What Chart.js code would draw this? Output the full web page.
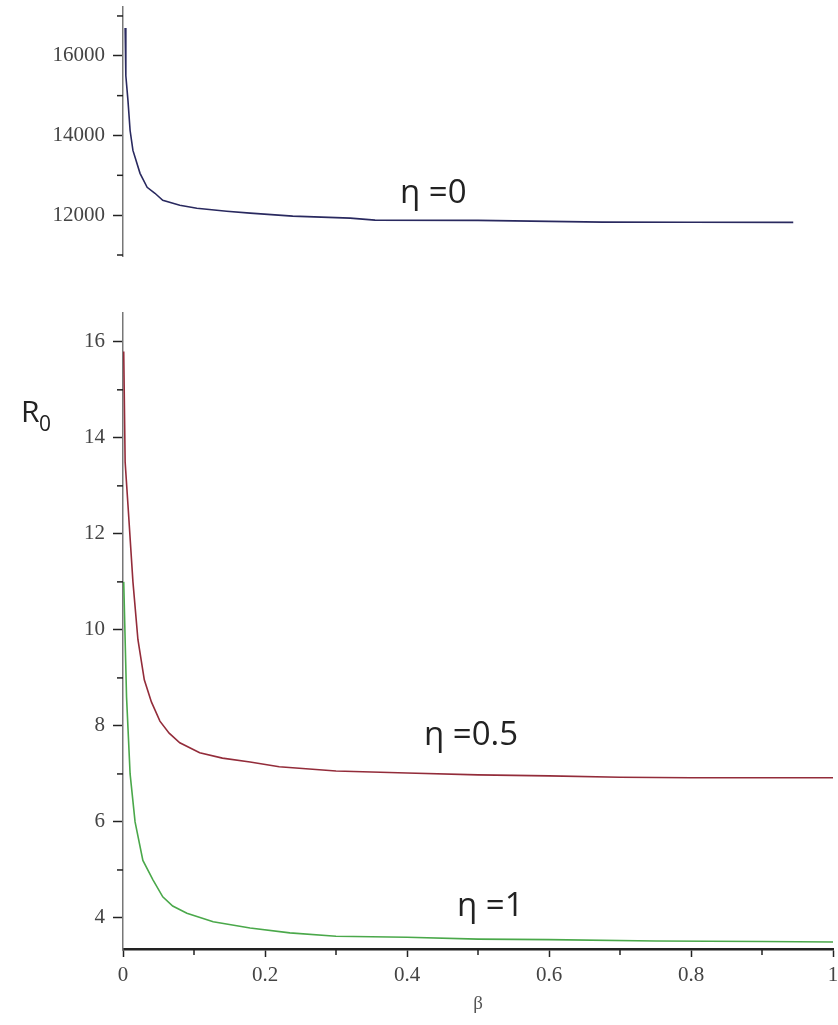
<!DOCTYPE html>
<html>
<head>
<meta charset="utf-8">
<script src="https://cdn.jsdelivr.net/npm/chart.js@4.4.0/dist/chart.umd.min.js"></script>
<style>
  body { margin: 0; background: #fff; }
  #wrap { position: relative; width: 838px; height: 1025px; background: #fff; }
  canvas { position: absolute; left: 0; }
  #topChart { top: 0; }
  #bottomChart { top: 290px; }
</style>
</head>
<body>
<div id="wrap">
  <canvas id="topChart" width="838" height="270"></canvas>
  <canvas id="bottomChart" width="838" height="735"></canvas>
</div>
<script>
// η = 0 (top panel)
const betaEta0 = [0.003, 0.004, 0.007, 0.010, 0.014, 0.024, 0.034, 0.045, 0.056, 0.080, 0.104, 0.146, 0.179, 0.239, 0.320, 0.355, 0.500, 0.675, 0.800, 0.944];
const r0Eta0 = [16700, 15500, 14875, 14125, 13625, 13050, 12700, 12550, 12375, 12250, 12175, 12100, 12050, 11975, 11925, 11875, 11870, 11825, 11823, 11820];

// η = 0.5
const betaEta05 = [0.001, 0.003, 0.007, 0.014, 0.021, 0.030, 0.040, 0.052, 0.065, 0.080, 0.108, 0.140, 0.179, 0.220, 0.300, 0.400, 0.500, 0.600, 0.700, 0.800, 0.900, 1.000];
const r0Eta05 = [15.8, 13.5, 12.6, 11.0, 9.8, 8.96, 8.5, 8.1, 7.85, 7.65, 7.44, 7.33, 7.25, 7.15, 7.06, 7.02, 6.98, 6.96, 6.93, 6.92, 6.92, 6.92];

// η = 1
const betaEta1 = [0.001, 0.005, 0.010, 0.017, 0.028, 0.042, 0.056, 0.070, 0.090, 0.127, 0.179, 0.235, 0.300, 0.400, 0.500, 0.600, 0.750, 0.900, 1.000];
const r0Eta1 = [11.0, 8.6, 7.0, 6.0, 5.2, 4.8, 4.44, 4.25, 4.1, 3.92, 3.79, 3.69, 3.62, 3.6, 3.56, 3.55, 3.52, 3.51, 3.5];

// tick values
const topMajorTicks = [12000, 14000, 16000];
const topMinorTicks = [11000, 13000, 15000, 17000];
const yMajorTicks = [4, 6, 8, 10, 12, 14, 16];
const yMinorTicks = [5, 7, 9, 11, 13, 15];
const xMajorTicks = [0, 0.2, 0.4, 0.6, 0.8, 1];
const xMinorTicks = [0.1, 0.3, 0.5, 0.7, 0.9];

const tickFont = { family: 'Liberation Serif', size: 21 };

function toPoints(xs, ys) {
    return xs.map((x, i) => ({ x: x, y: ys[i] }));
}

// short minor tick marks, placed through the chart's own scales
const minorTicksPlugin = {
    id: 'minorTicks',
    afterDraw(chart, args, opts) {
        const ctx = chart.ctx;
        const area = chart.chartArea;
        ctx.save();
        ctx.strokeStyle = '#222';
        ctx.lineWidth = 1.5;
        (opts.y || []).forEach(v => {
            const py = chart.scales.y.getPixelForValue(v);
            ctx.beginPath();
            ctx.moveTo(area.left - 6, py);
            ctx.lineTo(area.left, py);
            ctx.stroke();
        });
        (opts.x || []).forEach(v => {
            const px = chart.scales.x.getPixelForValue(v);
            ctx.beginPath();
            ctx.moveTo(px, area.bottom);
            ctx.lineTo(px, area.bottom + 6);
            ctx.stroke();
        });
        ctx.restore();
    }
};

// free text: curve labels and axis titles
const textPlugin = {
    id: 'textLabels',
    afterDraw(chart, args, opts) {
        const ctx = chart.ctx;
        ctx.save();
        (opts.items || []).forEach(item => {
            ctx.font = item.font;
            ctx.fillStyle = item.color || '#222';
            ctx.textAlign = item.align || 'left';
            ctx.textBaseline = item.baseline || 'alphabetic';
            ctx.fillText(item.text, item.x, item.y);
        });
        ctx.restore();
    }
};

function yAxis(min, max, ticks, width) {
    return {
        type: 'linear',
        min: min,
        max: max,
        afterBuildTicks: s => { s.ticks = ticks.map(v => ({ value: v })); },
        afterFit: s => { s.width = width; s.paddingTop = 0; s.paddingBottom = 0; },
        grid: { drawOnChartArea: false, drawTicks: true, tickLength: 10, tickColor: '#222', tickWidth: 1.5 },
        border: { display: true, color: '#777', width: 1.5 },
        ticks: { font: tickFont, color: '#444', padding: 8, callback: v => String(v) }
    };
}

// top panel, η = 0
new Chart(document.getElementById('topChart'), {
    type: 'line',
    data: {
        datasets: [{
            data: toPoints(betaEta0, r0Eta0),
            borderColor: '#29295f',
            borderWidth: 1.6,
            pointRadius: 0,
            tension: 0
        }]
    },
    options: {
        responsive: false,
        animation: false,
        layout: { padding: { top: 7, right: 5, left: 0, bottom: 14 } },
        plugins: {
            legend: { display: false },
            tooltip: { enabled: false },
            minorTicks: { y: topMinorTicks },
            textLabels: {
                items: [
                    { text: 'η =0', x: 400, y: 203, font: '33px "Open Sans"' }
                ]
            }
        },
        scales: {
            x: { type: 'linear', min: 0, max: 1, display: false },
            y: yAxis(10975, 17225, topMajorTicks, 123)
        }
    },
    plugins: [minorTicksPlugin, textPlugin]
});

// bottom panel, η = 0.5 and η = 1
new Chart(document.getElementById('bottomChart'), {
    type: 'line',
    data: {
        datasets: [{
            data: toPoints(betaEta05, r0Eta05),
            borderColor: '#932c3a',
            borderWidth: 1.6,
            pointRadius: 0,
            tension: 0
        }, {
            data: toPoints(betaEta1, r0Eta1),
            borderColor: '#4aa84a',
            borderWidth: 1.6,
            pointRadius: 0,
            tension: 0
        }]
    },
    options: {
        responsive: false,
        animation: false,
        layout: { padding: { top: 23, right: 5, left: 0, bottom: 0 } },
        plugins: {
            legend: { display: false },
            tooltip: { enabled: false },
            minorTicks: { y: yMinorTicks, x: xMinorTicks },
            textLabels: {
                items: [
                    { text: 'η =0.5', x: 424, y: 455, font: '33px "Open Sans"' },
                    { text: 'η =1', x: 457, y: 626, font: '33px "Open Sans"' },
                    { text: 'R', x: 21, y: 132, font: '30px "Open Sans"' },
                    { text: '0', x: 39, y: 141, font: '21px "Open Sans"' },
                    { text: 'β', x: 478, y: 714, font: '19px "Liberation Serif"', align: 'center', baseline: 'middle', color: '#555' }
                ]
            }
        },
        scales: {
            x: {
                type: 'linear',
                min: 0,
                max: 1,
                afterBuildTicks: s => { s.ticks = xMajorTicks.map(v => ({ value: v })); },
                afterFit: s => { s.height = 76; s.paddingLeft = 0; s.paddingRight = 0; },
                grid: { drawOnChartArea: false, drawTicks: true, tickLength: 8, tickColor: '#222', tickWidth: 1.5 },
                border: { display: true, color: '#222', width: 2.5 },
                ticks: { font: tickFont, color: '#444', padding: 6, maxRotation: 0, callback: v => String(v) }
            },
            y: yAxis(3.354, 16.6, yMajorTicks, 123)
        }
    },
    plugins: [minorTicksPlugin, textPlugin]
});
</script>
</body>
</html>
